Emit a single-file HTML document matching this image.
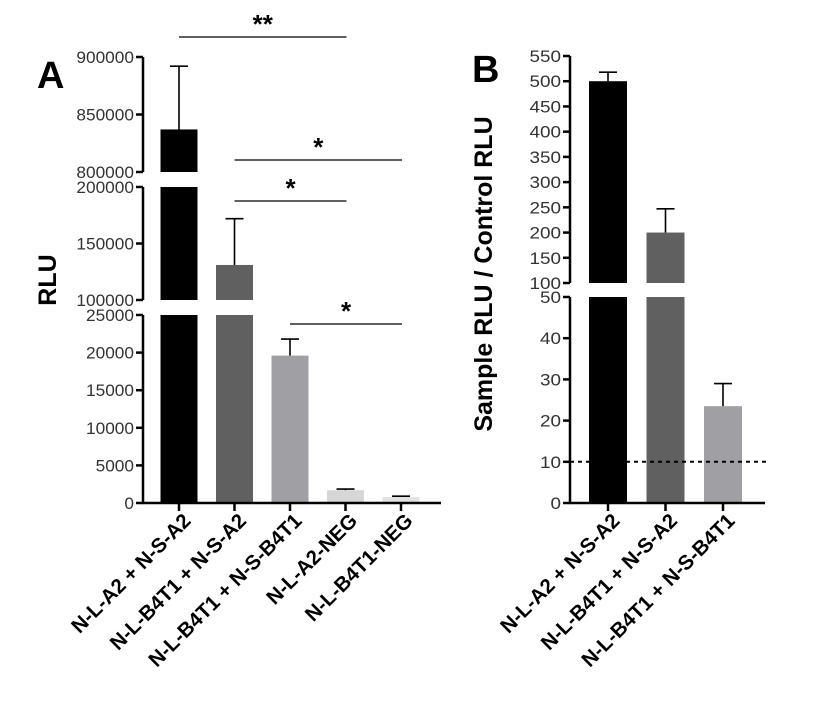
<!DOCTYPE html>
<html><head><meta charset="utf-8"><style>
body{margin:0;background:#fff}
svg{font-family:"Liberation Sans",Arial,sans-serif}
</style></head><body>
<svg id="chart" width="832" height="716" xmlns="http://www.w3.org/2000/svg"></svg>
<script>
const catsA=["N-L-A2 + N-S-A2","N-L-B4T1 + N-S-A2","N-L-B4T1 + N-S-B4T1","N-L-A2-NEG","N-L-B4T1-NEG"];
const valsA=[837000,131000,19600,1700,800];
const errA=[892000,172000,21800,1850,900];
const colorsA=["#000","#606060","#a0a0a4","#d6d6d6","#e2e2e2"];
const ticksA1=[800000,850000,900000];
const ticksA2=[100000,150000,200000];
const ticksA3=[0,5000,10000,15000,20000,25000];
const catsB=["N-L-A2 + N-S-A2","N-L-B4T1 + N-S-A2","N-L-B4T1 + N-S-B4T1"];
const valsB=[500,200,23.5];
const errB=[518,247,29];
const colorsB=["#000","#606060","#a0a0a4"];
const ticksB1=[100,150,200,250,300,350,400,450,500,550];
const ticksB2=[0,10,20,30,40,50];
const threshB=10;

const NS="http://www.w3.org/2000/svg";
const svg=document.getElementById('chart');
function el(t,a,txt){const e=document.createElementNS(NS,t);for(const k in a)e.setAttribute(k,a[k]);if(txt!==undefined)e.textContent=txt;svg.appendChild(e);return e;}
function lin(d0,d1,r0,r1){return v=>r0+(v-d0)*(r1-r0)/(d1-d0);}

// Panel A
const segA=[{lo:800000,hi:900000,y0:172,y1:57,ticks:ticksA1},{lo:100000,hi:200000,y0:300,y1:187,ticks:ticksA2},{lo:0,hi:25000,y0:503,y1:315,ticks:ticksA3}];
segA.forEach(s=>s.f=lin(s.lo,s.hi,s.y0,s.y1));
function yA(v){for(const s of segA){if(v>=s.lo&&v<=s.hi)return s.f(v);}return null;}
const axA=143, cxA=i=>179+i*55.5, bw=37;
segA.forEach((s,si)=>{
 let a=el('line',{x1:axA,y1:s.y0,x2:axA,y2:s.y1,stroke:'#000','stroke-width':2.5});
 
 s.ticks.forEach(t=>{const y=s.f(t);
  let tl=el('line',{x1:axA-7,y1:y,x2:axA,y2:y,stroke:'#000','stroke-width':2.5});
  
  let tx=el('text',{x:axA-9,y:y+6,'text-anchor':'end','font-size':17,fill:'#333',textLength:String(t).length*9.6,lengthAdjust:'spacingAndGlyphs'},t);
  });
});
catsA.forEach((c,i)=>{
 const x=cxA(i);
 segA.forEach(s=>{const v=valsA[i];if(v<s.lo)return;const top=Math.min(v,s.hi);const yt=s.f(top);
  let r=el('rect',{x:x-bw/2,y:yt,width:bw,height:s.y0-yt,fill:colorsA[i]});
  });
 const yv=yA(valsA[i]),ye=yA(errA[i]);
 let e1=el('line',{x1:x,y1:yv,x2:x,y2:ye,stroke:'#000','stroke-width':1.6});
 
 let e2=el('line',{x1:x-9,y1:ye,x2:x+9,y2:ye,stroke:'#000','stroke-width':1.6});
 
 let tk=el('line',{x1:x,y1:503,x2:x,y2:511,stroke:'#000','stroke-width':2.5});
 
 let lb=el('text',{x:x+13,y:522,'text-anchor':'end','font-size':20.5,'font-weight':'bold',transform:`rotate(-45 ${x+13} 522)`},c);
 
});
let xa=el('line',{x1:axA-1,y1:503,x2:441,y2:503,stroke:'#000','stroke-width':2.5});

const sig=[[0,3,37,'**'],[1,4,160,'*'],[1,3,201,'*'],[2,4,324,'*']];
sig.forEach(s=>{const x1=cxA(s[0]),x2=cxA(s[1])+1;
 let l=el('line',{x1:x1,y1:s[2],x2:x2,y2:s[2],stroke:'#000','stroke-width':1.3});
 
 let t=el('text',{x:(x1+x2)/2,y:s[2]-4,'text-anchor':'middle','font-size':26,'font-weight':'bold'},s[3]);
 });
let la=el('text',{x:37,y:88,'font-size':38,'font-weight':'bold'},'A');

let ya=el('text',{x:56,y:280,'text-anchor':'middle','font-size':25,'font-weight':'bold',transform:'rotate(-90 56 280)'},'RLU');


// Panel B
const segB=[{lo:100,hi:550,y0:283,y1:56,ticks:ticksB1},{lo:0,hi:50,y0:503,y1:297,ticks:ticksB2}];
segB.forEach(s=>s.f=lin(s.lo,s.hi,s.y0,s.y1));
function yB(v){for(const s of segB){if(v>=s.lo&&v<=s.hi)return s.f(v);}return null;}
const axB=570, cxB=i=>608+i*57.5;
segB.forEach(s=>{
 let a=el('line',{x1:axB,y1:s.y0,x2:axB,y2:s.y1,stroke:'#000','stroke-width':2.5});
 
 s.ticks.forEach(t=>{const y=s.f(t);
  let tl=el('line',{x1:axB-7,y1:y,x2:axB,y2:y,stroke:'#000','stroke-width':2.5});
  
  let tx=el('text',{x:axB-9,y:y+6,'text-anchor':'end','font-size':17,fill:'#333',textLength:String(t).length*10.5,lengthAdjust:'spacingAndGlyphs'},t);
  });
});
catsB.forEach((c,i)=>{
 const x=cxB(i);
 segB.forEach(s=>{const v=valsB[i];if(v<s.lo)return;const top=Math.min(v,s.hi);const yt=s.f(top);
  let r=el('rect',{x:x-19,y:yt,width:38,height:s.y0-yt,fill:colorsB[i]});
  });
 const yv=yB(valsB[i]),ye=yB(errB[i]);
 let e1=el('line',{x1:x,y1:yv,x2:x,y2:ye,stroke:'#000','stroke-width':1.6});
 
 let e2=el('line',{x1:x-9,y1:ye,x2:x+9,y2:ye,stroke:'#000','stroke-width':1.6});
 
 let tk=el('line',{x1:x,y1:503,x2:x,y2:511,stroke:'#000','stroke-width':2.5});
 
 let lb=el('text',{x:x+13,y:522,'text-anchor':'end','font-size':20.5,'font-weight':'bold',transform:`rotate(-45 ${x+13} 522)`},c);
 
});
let xb=el('line',{x1:axB-1,y1:503,x2:765,y2:503,stroke:'#000','stroke-width':2.5});

let th=el('line',{x1:axB,y1:yB(threshB),x2:766,y2:yB(threshB),stroke:'#000','stroke-width':2,'stroke-dasharray':'4,4'});

let lbB=el('text',{x:472,y:82,'font-size':38,'font-weight':'bold'},'B');

let yb=el('text',{x:492,y:274,'text-anchor':'middle','font-size':25,'font-weight':'bold',transform:'rotate(-90 492 274)'},'Sample RLU / Control RLU');

</script>
</body></html>
